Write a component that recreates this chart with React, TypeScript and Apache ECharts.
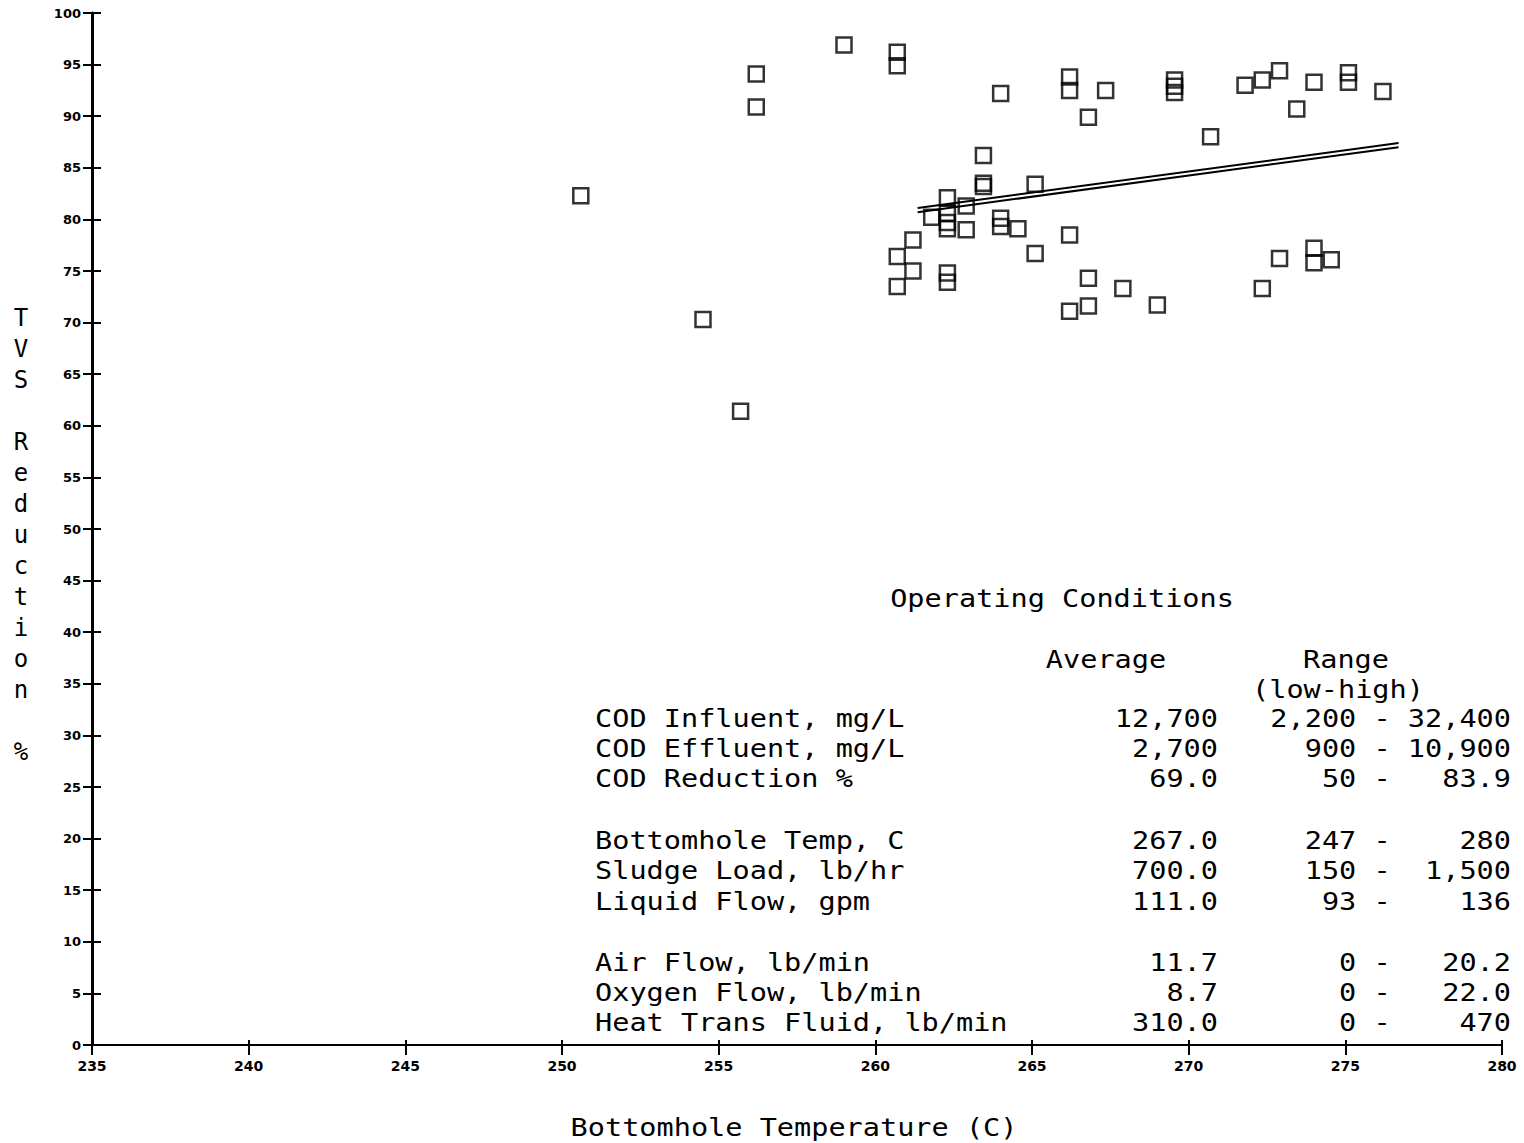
import React, { useEffect, useRef } from "react";
import * as echarts from "echarts";

// Scatter data: Bottomhole temperature (C) vs TVS reduction (%)
const tempC: number[] = [
  250.6, 254.5, 255.7, 256.2, 256.2, 259.0, 260.7, 260.7, 260.7, 260.7,
  261.2, 261.2, 261.8, 262.3, 262.3, 262.3, 262.3, 262.3, 262.3, 262.9,
  262.9, 263.45, 263.45, 263.45, 264.0, 264.0, 264.0, 264.55, 265.1, 265.1,
  266.2, 266.2, 266.2, 266.2, 266.8, 266.8, 266.8, 267.35, 267.9, 269.0,
  269.55, 269.55, 269.55, 270.7, 271.8, 272.35, 272.9, 273.45, 274.0, 275.1,
  275.1, 276.2, 272.9, 272.35, 274.0, 274.0, 274.55,
];
const tvsReduction: number[] = [
  82.3, 70.3, 61.4, 94.1, 90.9, 96.9, 96.2, 94.9, 76.4, 73.5,
  78.0, 75.0, 80.2, 82.1, 80.6, 79.7, 79.1, 74.8, 73.9, 81.3,
  79.0, 86.2, 83.5, 83.2, 92.2, 80.1, 79.3, 79.1, 83.4, 76.7,
  93.8, 92.5, 78.5, 71.1, 89.9, 74.3, 71.6, 92.5, 73.3, 71.7,
  93.5, 92.9, 92.3, 88.0, 93.0, 93.5, 94.4, 90.7, 93.3, 94.2,
  93.3, 92.4, 76.2, 73.3, 77.2, 75.8, 76.1,
];

// Regression lines (double-drawn)
const regX: number[] = [261.35, 276.7];
const regA: number[] = [81.1, 87.4];
const regB: number[] = [80.7, 87.0];

// Operating conditions table
const condLabels: string[] = [
  "COD Influent, mg/L",
  "COD Effluent, mg/L",
  "COD Reduction %",
  "Bottomhole Temp, C",
  "Sludge Load, lb/hr",
  "Liquid Flow, gpm",
  "Air Flow, lb/min",
  "Oxygen Flow, lb/min",
  "Heat Trans Fluid, lb/min",
];
const condAverage: string[] = [
  "12,700", "2,700", "69.0", "267.0", "700.0", "111.0", "11.7", "8.7", "310.0",
];
const condLow: string[] = ["2,200", "900", "50", "247", "150", "93", "0", "0", "0"];
const condHigh: string[] = ["32,400", "10,900", "83.9", "280", "1,500", "136", "20.2", "22.0", "470"];
const rowY: number[] = [718, 748, 778, 840, 870, 901, 962, 992, 1022];

const MONO = "'DejaVu Sans Mono', 'Liberation Mono', monospace";

function pad(s: string, n: number): string {
  while (s.length < n) s = " " + s;
  return s;
}

export default function App() {
  const ref = useRef<HTMLDivElement>(null);
  useEffect(() => {
    if (!ref.current) return;
    const chart = echarts.init(ref.current, null, { renderer: "svg" });
    const pts = tempC.map((t, i) => [t, tvsReduction[i]]);
    const SX = 1.19;
    const SY = 1.05;
    const txt = (x: number, y: number, text: string, align: string) => ({
      type: "text",
      x,
      y,
      scaleX: SX,
      scaleY: SY,
      style: {
        text,
        fontFamily: MONO,
        fontSize: 24,
        fill: "#000",
        align,
        verticalAlign: "middle",
      },
    });
    const graphics: any[] = [
      txt(1062, 598, "Operating Conditions", "center"),
      txt(1106, 659, "Average", "center"),
      txt(1346, 659, "Range", "center"),
      txt(1338, 689, "(low-high)", "center"),
      txt(794, 1127, "Bottomhole Temperature (C)", "center"),
      {
        type: "text",
        x: 21,
        y: 535,
        style: {
          text: "TVS Reduction %".split("").join("\n"),
          fontFamily: MONO,
          fontSize: 24,
          fill: "#000",
          align: "center",
          verticalAlign: "middle",
          lineHeight: 31,
        },
      },
    ];
    condLabels.forEach((lab, i) => {
      graphics.push(txt(595, rowY[i], lab, "left"));
      graphics.push(txt(1218, rowY[i], condAverage[i], "right"));
      const rng = pad(condLow[i], 5) + " - " + pad(condHigh[i], 6);
      graphics.push(txt(1511, rowY[i], rng, "right"));
    });

    const labelFont = { fontFamily: "'DejaVu Sans', sans-serif", fontWeight: "bold", fontSize: 13, color: "#000" };

    chart.setOption({
      animation: false,
      backgroundColor: "#fff",
      grid: { left: 92, right: 22, top: 13, bottom: 98, containLabel: false, outerBoundsMode: "none" },
      xAxis: [
        {
          type: "value",
          min: 235,
          max: 280,
          interval: 5,
          position: "bottom",
          axisLine: { show: true, onZero: false, lineStyle: { color: "#000", width: 2 } },
          axisTick: { show: true, length: 10, lineStyle: { color: "#000", width: 2 } },
          axisLabel: { ...labelFont, fontSize: 14, margin: 14 },
          splitLine: { show: false },
        },
        {
          type: "value",
          min: 235,
          max: 280,
          interval: 5,
          position: "bottom",
          axisLine: { show: false, onZero: false },
          axisTick: { show: true, inside: true, length: 5, lineStyle: { color: "#000", width: 2 } },
          axisLabel: { show: false },
          splitLine: { show: false },
        },
      ],
      yAxis: [
        {
          type: "value",
          min: 0,
          max: 100,
          interval: 5,
          position: "left",
          axisLine: { show: true, onZero: false, lineStyle: { color: "#000", width: 3 } },
          axisTick: { show: true, length: 9, lineStyle: { color: "#000", width: 2 } },
          axisLabel: { ...labelFont, margin: 11 },
          splitLine: { show: false },
        },
        {
          type: "value",
          min: 0,
          max: 100,
          interval: 5,
          position: "left",
          axisLine: { show: false, onZero: false },
          axisTick: { show: true, inside: true, length: 9, lineStyle: { color: "#000", width: 2 } },
          axisLabel: { show: false },
          splitLine: { show: false },
        },
      ],
      series: [
        {
          type: "scatter",
          data: pts,
          symbol: "rect",
          symbolSize: 15,
          itemStyle: { color: "rgba(0,0,0,0)", borderColor: "#000", borderWidth: 2.5 },
          z: 3,
        },
        {
          type: "line",
          data: regX.map((x, i) => [x, regA[i]]),
          showSymbol: false,
          symbol: "none",
          lineStyle: { color: "#000", width: 2 },
        },
        {
          type: "line",
          data: regX.map((x, i) => [x, regB[i]]),
          showSymbol: false,
          symbol: "none",
          lineStyle: { color: "#000", width: 2 },
        },
      ],
      graphic: graphics,
    });
    return () => chart.dispose();
  }, []);
  return (
    <div
      ref={ref}
      style={{ position: "absolute", left: 0, top: 0, width: 1524, height: 1143, background: "#fff" }}
    />
  );
}
